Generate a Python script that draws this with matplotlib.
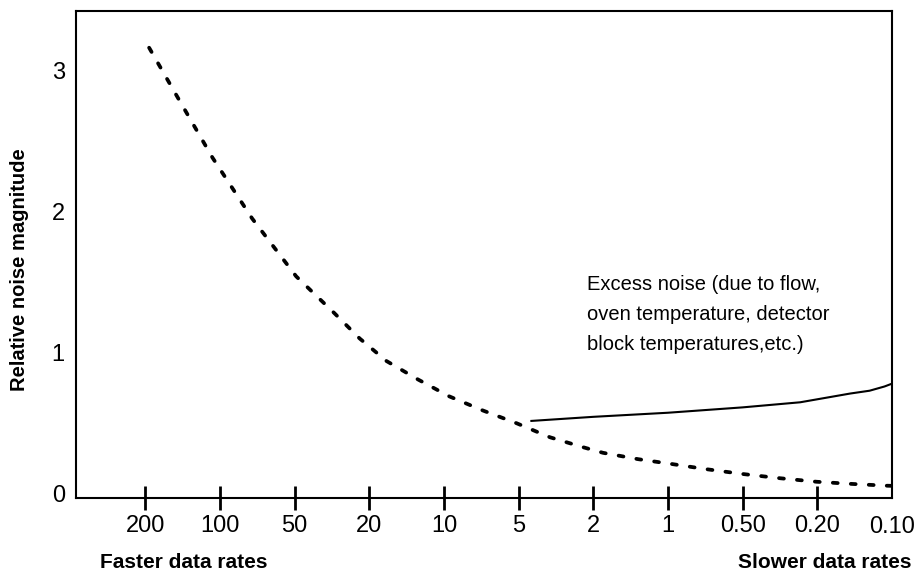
import matplotlib
matplotlib.use("Agg")
import matplotlib.pyplot as plt
import numpy as np

plt.rcParams['font.family'] = ['Liberation Sans', 'DejaVu Sans']

# data rates (Hz), equally spaced along the axis
rates = ["200", "100", "50", "20", "10", "5", "2", "1", "0.50", "0.20", "0.10"]
xpos = np.arange(len(rates))

# detector noise (dashed curve)
noisePos = [0.05, 0.43, 0.90, 1.43, 2.02, 2.53, 2.87, 3.23, 3.65, 4.07, 4.52, 4.97,
            5.42, 5.86, 6.13, 6.60, 7.06, 7.50, 8.00, 8.50, 8.99, 9.45, 9.93, 10.0]
noiseVal = [3.16, 2.81, 2.38, 1.95, 1.54, 1.28, 1.10, 0.94, 0.81, 0.69, 0.59, 0.50,
            0.40, 0.33, 0.29, 0.245, 0.21, 0.175, 0.14, 0.11, 0.085, 0.07, 0.057, 0.056]

# excess noise (solid curve)
excessPos = [5.17, 6.0, 7.0, 8.0, 8.77, 9.44, 9.70, 9.90, 10.0]
excessVal = [0.516, 0.545, 0.574, 0.612, 0.648, 0.71, 0.73, 0.76, 0.78]

fig = plt.figure(figsize=(9.23, 5.8), dpi=100)
ax = fig.add_axes([0.0823, 0.1414, 0.8841, 0.8396])

ax.plot(noisePos, noiseVal, color='black', lw=2.7, ls=(0, (1.3, 3.5)), dash_capstyle='round')
ax.plot(excessPos, excessVal, color='black', lw=1.5)

ax.set_xlim(-0.93, 10)
ax.set_ylim(-0.03, 3.42)

ax.set_xticks(xpos[:-1])
ax.set_xticklabels(rates[:-1])
ax.tick_params(axis='x', direction='inout', length=17, width=2, pad=4, labelsize=17)
ax.text(10, -0.155, rates[-1], ha='center', va='top', fontsize=17)

ax.set_yticks([0, 1, 2, 3])
ax.tick_params(axis='y', length=0, pad=8, labelsize=17)

for s in ax.spines.values():
    s.set_linewidth(1.5)

ax.text(5.92, 1.55, "Excess noise (due to flow,\noven temperature, detector\nblock temperatures,etc.)",
        fontsize=14.5, va='top', ha='left', linespacing=1.75)

fig.text(100/923, 1 - 563/580, "Faster data rates", fontsize=15, fontweight='bold', ha='left', va='center')
fig.text(912/923, 1 - 563/580, "Slower data rates", fontsize=15, fontweight='bold', ha='right', va='center')
fig.text(20/923, 1 - 270/580, "Relative noise magnitude", fontsize=14.5, fontweight='bold',
         rotation=90, ha='center', va='center')

plt.savefig("out.png", dpi=100)
